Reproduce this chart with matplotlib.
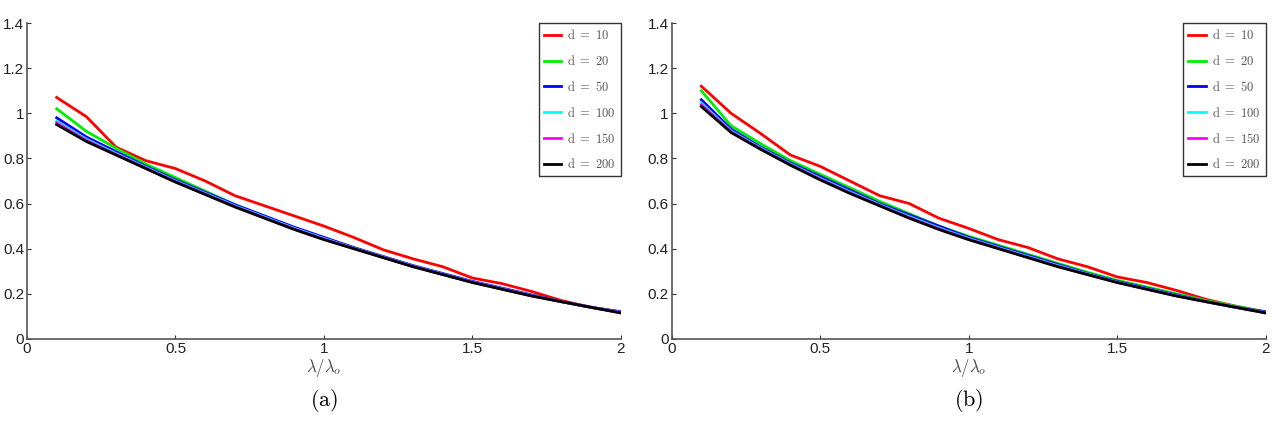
import numpy as np
import matplotlib.pyplot as plt

plt.rcParams['mathtext.fontset'] = 'cm'
plt.rcParams['font.family'] = ['Liberation Sans', 'DejaVu Sans']

x = np.round(np.arange(0.1, 2.01, 0.1), 1)
labels = ['d = 10', 'd = 20', 'd = 50', 'd = 100', 'd = 150', 'd = 200']
colors = ['#ff0000', '#00ee00', '#0000ff', '#00ffff', '#ff00ff', '#000000']

# panel (a)
a_d10 = [1.07, 0.985, 0.85, 0.79, 0.755, 0.70, 0.635, 0.59, 0.545, 0.50,
         0.45, 0.395, 0.355, 0.32, 0.27, 0.245, 0.21, 0.17, 0.14, 0.12]
a_d20 = [1.02, 0.92, 0.845, 0.775, 0.715, 0.655, 0.595, 0.54, 0.49, 0.445,
         0.405, 0.362, 0.322, 0.287, 0.252, 0.222, 0.192, 0.165, 0.14, 0.117]
a_d50 = [0.98, 0.895, 0.83, 0.765, 0.705, 0.65, 0.595, 0.545, 0.495, 0.45,
         0.405, 0.365, 0.325, 0.29, 0.255, 0.225, 0.195, 0.165, 0.14, 0.12]
a_d100 = [0.965, 0.885, 0.822, 0.76, 0.70, 0.645, 0.59, 0.54, 0.49, 0.445,
          0.402, 0.362, 0.322, 0.287, 0.252, 0.222, 0.192, 0.165, 0.14, 0.117]
a_d150 = [0.958, 0.88, 0.818, 0.757, 0.697, 0.642, 0.587, 0.537, 0.487, 0.442,
          0.401, 0.361, 0.321, 0.286, 0.251, 0.221, 0.191, 0.165, 0.14, 0.116]
a_d200 = [0.95, 0.875, 0.815, 0.755, 0.695, 0.64, 0.585, 0.535, 0.485, 0.44,
          0.40, 0.36, 0.32, 0.285, 0.25, 0.22, 0.19, 0.165, 0.14, 0.115]

# panel (b)
b_d10 = [1.12, 1.0, 0.91, 0.815, 0.765, 0.70, 0.635, 0.60, 0.535, 0.49,
         0.44, 0.405, 0.355, 0.32, 0.275, 0.25, 0.215, 0.175, 0.145, 0.12]
b_d20 = [1.10, 0.945, 0.865, 0.79, 0.73, 0.67, 0.61, 0.555, 0.50, 0.455,
         0.415, 0.375, 0.335, 0.295, 0.26, 0.23, 0.20, 0.17, 0.145, 0.12]
b_d50 = [1.06, 0.93, 0.85, 0.78, 0.72, 0.66, 0.60, 0.55, 0.50, 0.45,
         0.41, 0.37, 0.33, 0.29, 0.255, 0.225, 0.195, 0.165, 0.14, 0.12]
b_d100 = [1.045, 0.922, 0.845, 0.775, 0.712, 0.652, 0.595, 0.542, 0.492, 0.445,
          0.405, 0.365, 0.325, 0.288, 0.252, 0.222, 0.192, 0.165, 0.14, 0.117]
b_d150 = [1.038, 0.918, 0.842, 0.772, 0.708, 0.648, 0.592, 0.538, 0.488, 0.442,
          0.402, 0.362, 0.322, 0.286, 0.251, 0.221, 0.191, 0.165, 0.14, 0.116]
b_d200 = [1.03, 0.915, 0.84, 0.77, 0.705, 0.645, 0.59, 0.535, 0.485, 0.44,
          0.40, 0.36, 0.32, 0.285, 0.25, 0.22, 0.19, 0.165, 0.14, 0.115]

panels = [
    ([a_d10, a_d20, a_d50, a_d100, a_d150, a_d200], 'a'),
    ([b_d10, b_d20, b_d50, b_d100, b_d150, b_d200], 'b'),
]

fig = plt.figure(figsize=(12.72, 4.34), dpi=100)
lefts = [0.0212, 0.528]
for left, (series, caption) in zip(lefts, panels):
    ax = fig.add_axes([left, 0.219, 0.467, 0.728])
    for y, lab, c in zip(series, labels, colors):
        ax.plot(x, y, color=c, lw=2, label='$\\mathrm{' + lab.replace(' ', '\\ ') + '}$')
    ax.set_xlim(0, 2)
    ax.set_ylim(0, 1.4)
    ax.set_xticks([0, 0.5, 1, 1.5, 2])
    ax.set_xticklabels(['0', '0.5', '1', '1.5', '2'])
    ax.set_yticks(np.arange(0, 1.41, 0.2))
    ax.set_yticklabels(['0', '0.2', '0.4', '0.6', '0.8', '1', '1.2', '1.4'])
    ax.tick_params(direction='in', length=3, labelsize=11, colors='#333333',
                   labelcolor='#222222', pad=2)
    for s in ['top', 'right']:
        ax.spines[s].set_visible(False)
    for s in ['left', 'bottom']:
        ax.spines[s].set_color('#555555')
        ax.spines[s].set_linewidth(1.2)
    ax.set_xlabel('$\\lambda/\\lambda_o$', fontsize=12, labelpad=1, color='#444444')
    leg = ax.legend(loc='upper right', fontsize=9, frameon=True, fancybox=False,
                    edgecolor='black', handlelength=1.4, borderpad=0.4,
                    labelspacing=0.95, borderaxespad=0.0, handletextpad=0.5)
    leg.get_frame().set_linewidth(1.0)
    for t in leg.get_texts():
        t.set_color('#555555')
    ax.text(0.5, -0.195, '$\\mathrm{(' + caption + ')}$', transform=ax.transAxes,
            ha='center', va='center', fontsize=16)

fig.savefig('out.png', dpi=100)
